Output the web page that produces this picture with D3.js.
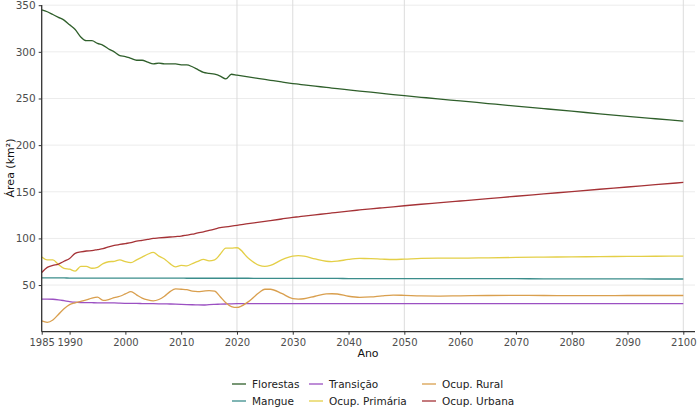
<!DOCTYPE html>
<html>
<head>
<meta charset="utf-8">
<script src="https://cdn.jsdelivr.net/npm/d3@7"></script>
<style>
  body { margin: 0; background: #fff; }
  svg { font-family: "DejaVu Sans", sans-serif; }
</style>
</head>
<body>
<svg id="chart" width="700" height="420"></svg>
<script>
// ----- data ----- //
const anos = [1985,1986,1987,1988,1989,1990,1991,1992,1993,1994,1995,1996,1997,1998,1999,
  2000,2001,2002,2003,2004,2005,2006,2007,2008,2009,2010,2011,2012,2013,2014,2015,2016,2017,2018,2019,2020,
  2022,2024,2025,2026,2028,2030,2031,2032,2034,2036,2037,2038,2040,2042,2044,2046,2048,2050,
  2053,2056,2060,2065,2070,2075,2080,2085,2090,2095,2100];

const florestas = [345,343,340,337,334,329,324,316,312,312,309,307,303,300,296,
  295,293,291,291,289,287,288,287,287,287,286,286,284,281,278,277,276,274,271,276,275,
  273.1,271.3,270.4,269.5,267.7,266,265.3,264.6,263.2,261.9,261.2,260.6,259.3,258,256.8,255.5,254.2,253,
  251.3,249.6,247.4,244.6,241.8,239.1,236.4,233.6,230.9,228.3,225.7];

const mangue = [57.6,57.6,57.6,57.6,57.6,57.5,57.5,57.5,57.5,57.5,57.5,57.5,57.5,57.5,57.5,
  57.5,57.5,57.4,57.4,57.4,57.4,57.4,57.4,57.4,57.4,57.4,57.3,57.3,57.3,57.3,57.3,57.3,57.3,57.3,57.3,57.3,
  57.3,57.2,57.2,57.2,57.2,57.2,57.1,57.1,57.1,57.1,57.1,57.1,57.0,57.0,57.0,57.0,57.0,57.0,
  56.9,56.9,56.9,56.8,56.8,56.7,56.7,56.6,56.6,56.5,56.5];

const transicao = [35,35,34.8,34.2,33.3,32.3,31.6,31.3,31.2,31.1,31,31,30.9,30.8,30.6,
  30.4,30.3,30.3,30.2,30.1,30,29.9,29.8,29.7,29.5,29.3,29.1,28.9,28.7,28.6,29,29.3,29.5,29.7,29.9,30,
  30,30,30,30,30,30,30,30,30,30,30,30,30,30,30,30,30,30,
  30,30,30,30,30,30,30,30,30,30,30];

const ocupPrimaria = [80,77,77,72,68,67,65,70,70,68,69,73,75,75.5,77,
  75,74,77,80,83,85,81,78,73,69.5,71,70.5,73,75.5,77.5,76,77,83,89.5,89.5,90,
  79,71,70,71,77,81,81.5,81,78,75.5,75.2,75.6,77.5,78.5,78.4,77.8,77.4,77.8,
  78.6,78.8,78.8,79.2,79.6,80,80.2,80.5,80.7,80.9,81.1];

const ocupRural = [11.5,10,12.5,18.5,24.5,29,31,32.5,34,36,37,33.5,34.5,36.5,38,
  40.5,43,39.5,36,34,33,34.5,38,43,46,45.5,45,43.5,43,43.5,44,43.5,37.5,31,27,26,
  32,42,45.5,45.5,41,35.5,35,35.3,38,40.5,40.7,40.4,38,36.8,37.3,38.5,39.3,39,
  38.3,38.2,38.5,38.8,38.9,38.8,38.7,38.7,38.8,38.8,38.8];

const ocupUrbana = [63.5,69,71,72.5,75.5,78.5,84,85.5,86.5,87,88,89,91,92.5,93.5,
  94.5,95.5,97,98,99,100,100.5,101,101.5,102,102.5,103.5,104.5,106,107,108.5,110,111.5,112.3,113.2,114,
  115.8,117.5,118.3,119.1,120.8,122.5,123.2,123.9,125.3,126.6,127.3,128,129.3,130.5,131.7,132.8,133.9,135,
  136.6,138.1,140.1,142.6,145.2,147.7,150.2,152.7,155.1,157.6,160];

const xTicks = [1985,1990,2000,2010,2020,2030,2040,2050,2060,2070,2080,2090,2100];
const yTicks = [50,100,150,200,250,300,350];
const xGrid = [2020,2030,2050,2100];

const series = [
  {nome: "Florestas", valores: florestas, cor: "#2f5f2b"},
  {nome: "Mangue", valores: mangue, cor: "#3b8d8b"},
  {nome: "Transição", valores: transicao, cor: "#9b50c2"},
  {nome: "Ocup. Primária", valores: ocupPrimaria, cor: "#e4cf47"},
  {nome: "Ocup. Rural", valores: ocupRural, cor: "#d99f4e"},
  {nome: "Ocup. Urbana", valores: ocupUrbana, cor: "#a53236"}
];

// ----- chart ----- //
const svg = d3.select("#chart");

const x = d3.scaleLinear().domain([1985, 2100]).range([41.7, 683.3]);
const y = d3.scaleLinear().domain([0, 350]).range([331.7, 5.2]);

// grid
svg.append("g").selectAll("line")
  .data(yTicks).enter().append("line")
  .attr("x1", 41.7).attr("x2", 695)
  .attr("y1", d => y(d)).attr("y2", d => y(d))
  .attr("stroke", "#ececec").attr("stroke-width", 1);

svg.append("g").selectAll("line")
  .data(xGrid).enter().append("line")
  .attr("x1", d => x(d)).attr("x2", d => x(d))
  .attr("y1", 0).attr("y2", 331.7)
  .attr("stroke", "#dcdcdc").attr("stroke-width", 1);

// lines
const linha = d3.line()
  .x((d, i) => x(anos[i]))
  .y(d => y(d))
  .curve(d3.curveMonotoneX);

svg.append("g").selectAll("path")
  .data(series).enter().append("path")
  .attr("d", d => linha(d.valores))
  .attr("fill", "none")
  .attr("stroke", d => d.cor)
  .attr("stroke-width", 1.3);

// axes
const axeX = d3.axisBottom(x).tickValues(xTicks).tickFormat(d3.format("d")).tickSize(3).tickSizeOuter(0);
const gx = svg.append("g").attr("transform", "translate(0,331.7)").call(axeX);
gx.select(".domain").attr("d", "M41.7,0H695").attr("stroke", "#333").attr("stroke-width", 1.3);
gx.selectAll(".tick line").attr("stroke", "#333");
gx.selectAll("text").attr("fill", "#4d4d4d").style("font-size", "10px")
  .style("font-family", "DejaVu Sans").attr("dy", "0.85em");

const axeY = d3.axisLeft(y).tickValues(yTicks).tickSize(3).tickSizeOuter(0);
const gy = svg.append("g").attr("transform", "translate(41.7,0)").call(axeY);
gy.select(".domain").attr("d", "M0,5V331.7").attr("stroke", "#333").attr("stroke-width", 1.3);
gy.selectAll(".tick line").attr("stroke", "#333");
gy.selectAll("text").attr("fill", "#4d4d4d").style("font-size", "10.5px")
  .style("font-family", "DejaVu Sans");

// axis titles
svg.append("text")
  .attr("x", 368).attr("y", 357)
  .attr("text-anchor", "middle")
  .style("font-size", "11px").attr("fill", "#111")
  .text("Ano");

svg.append("text")
  .attr("transform", "translate(14,168) rotate(-90)")
  .attr("text-anchor", "middle")
  .style("font-size", "11px").attr("fill", "#111")
  .text("Área (km²)");

// legend
const legX = [232, 309, 422];
const legY = [384, 401];
const ordem = [[0, 2, 4], [1, 3, 5]];
const leg = svg.append("g");
ordem.forEach((row, r) => {
  row.forEach((si, c) => {
    const s = series[si];
    leg.append("line")
      .attr("x1", legX[c]).attr("x2", legX[c] + 14)
      .attr("y1", legY[r]).attr("y2", legY[r])
      .attr("stroke", s.cor).attr("stroke-width", 1.3);
    leg.append("text")
      .attr("x", legX[c] + 20).attr("y", legY[r])
      .attr("dy", "0.35em")
      .style("font-size", "10.5px").attr("fill", "#222")
      .text(s.nome);
  });
});
</script>
</body>
</html>
